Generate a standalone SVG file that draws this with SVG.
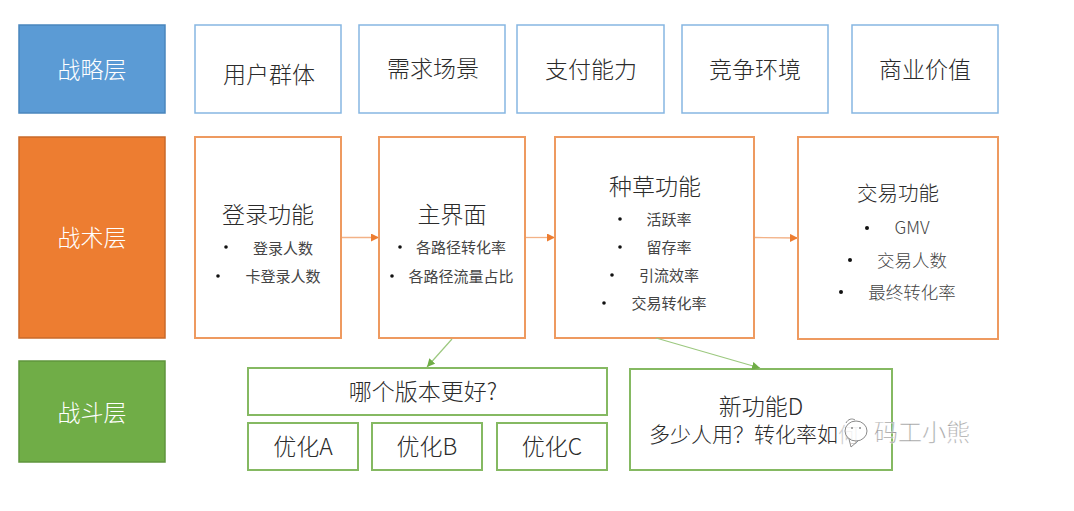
<svg xmlns="http://www.w3.org/2000/svg" width="1074" height="511" viewBox="0 0 1074 511">
<style>
text{font-family:"Noto Sans CJK SC","Noto Sans",sans-serif;fill:#2b2b2b;text-anchor:middle;font-weight:300}
.w{fill:#fff;font-size:23px}
.t{font-size:23px}
.s{font-size:15px;fill:#444;font-weight:400}
.q{font-size:17.500px;fill:#444;font-weight:300}
.m{font-size:23px}
.d{fill:#111}
.b{fill:#fff;stroke:#86b6e2;stroke-width:1.500}
.o{fill:#fff;stroke:#ee9a60;stroke-width:2}
.g{fill:#fff;stroke:#85b962;stroke-width:2}
.ol{stroke:#f3b287;stroke-width:1.300;fill:none}
.gl{stroke:#9cc87f;stroke-width:1.200;fill:none}
.wm{font-size:24px;fill:#9a9a9a;stroke:#fff;stroke-width:.3;text-anchor:start}
</style>
<defs>
<marker id="ao" markerUnits="userSpaceOnUse" markerWidth="9" markerHeight="9" refX="8" refY="4" orient="auto"><path d="M0 0L8 4L0 8Z" fill="#ed7d31"/></marker>
<marker id="ag" markerUnits="userSpaceOnUse" markerWidth="9" markerHeight="9" refX="8" refY="4" orient="auto"><path d="M0 0L8 4L0 8Z" fill="#70ad47"/></marker>
</defs>
<rect width="1074" height="511" fill="#fff"/>
<g id="layer-strategy"><rect x="19" y="25" width="146" height="88" fill="#5b9bd5" stroke="#4a86bd" stroke-width="1.500"/><text class="w" x="92" y="78">战略层</text></g>
<g id="layer-tactic"><rect x="19" y="137" width="146" height="201" fill="#ed7d31" stroke="#c96a2a" stroke-width="1.500"/><text class="w" x="92" y="246">战术层</text></g>
<g id="layer-battle"><rect x="19" y="361" width="146" height="101" fill="#70ad47" stroke="#5f953c" stroke-width="1.500"/><text class="w" x="92" y="421">战斗层</text></g>
<g id="s1"><rect class="b" x="195" y="25" width="146" height="88"/><text class="t" x="269" y="83">用户群体</text></g>
<g id="s2"><rect class="b" x="359" y="25" width="146" height="88"/><text class="t" x="433" y="77">需求场景</text></g>
<g id="s3"><rect class="b" x="517" y="25" width="147" height="88"/><text class="t" x="591" y="78">支付能力</text></g>
<g id="s4"><rect class="b" x="682" y="25" width="146" height="88"/><text class="t" x="755" y="78">竞争环境</text></g>
<g id="s5"><rect class="b" x="852" y="25" width="146" height="88"/><text class="t" x="925" y="78">商业价值</text></g>
<g id="login"><rect class="o" x="195" y="137" width="146" height="201"/><text class="t" x="268" y="223">登录功能</text>
<circle class="d" cx="226" cy="247" r="1.800"/><text class="s" x="283" y="254">登录人数</text>
<circle class="d" cx="218" cy="276" r="1.800"/><text class="s" x="283" y="282">卡登录人数</text></g>
<g id="main"><rect class="o" x="379" y="137" width="146" height="201"/><text class="t" x="452" y="223">主界面</text>
<circle class="d" cx="400" cy="247" r="1.800"/><text class="s" x="461" y="253">各路径转化率</text>
<circle class="d" cx="392" cy="276" r="1.800"/><text class="s" x="461" y="282">各路径流量占比</text></g>
<g id="grass"><rect class="o" x="555" y="137" width="199" height="201"/><text class="t" x="655" y="195">种草功能</text>
<circle class="d" cx="620" cy="219" r="1.800"/><text class="s" x="669" y="225">活跃率</text>
<circle class="d" cx="620" cy="247" r="1.800"/><text class="s" x="669" y="253">留存率</text>
<circle class="d" cx="612" cy="275" r="1.800"/><text class="s" x="669" y="281">引流效率</text>
<circle class="d" cx="604" cy="303" r="1.800"/><text class="s" x="669" y="309">交易转化率</text></g>
<g id="trade"><rect class="o" x="798" y="137" width="200" height="202"/><text x="898" y="201" style="font-size:20.500px">交易功能</text>
<circle class="d" cx="867" cy="228" r="2"/><text class="q" x="912" y="234">GMV</text>
<circle class="d" cx="850" cy="260" r="2"/><text class="q" x="912" y="267">交易人数</text>
<circle class="d" cx="841" cy="292" r="2"/><text class="q" x="912" y="299">最终转化率</text></g>
<g id="which"><rect class="g" x="248" y="368" width="359" height="47"/><text class="m" x="423" y="400">哪个版本更好?</text></g>
<g id="optA"><rect class="g" x="248" y="423" width="110" height="47"/><text class="m" x="303" y="455">优化A</text></g>
<g id="optB"><rect class="g" x="372" y="423" width="110" height="47"/><text class="m" x="427" y="455">优化B</text></g>
<g id="optC"><rect class="g" x="497" y="423" width="110" height="47"/><text class="m" x="552" y="455">优化C</text></g>
<g id="newD"><rect class="g" x="630" y="369" width="262" height="101"/><text class="t" x="761" y="415">新功能D</text><text x="649" y="442" style="font-size:21px;text-anchor:start">多少人用？转化率如<tspan fill="#ccc">何</tspan></text></g>
<g id="connectors">
<path class="ol" d="M342 237.500H379" marker-end="url(#ao)"/>
<path class="ol" d="M526 237.500H555" marker-end="url(#ao)"/>
<path class="ol" d="M755 237.500L798 238" marker-end="url(#ao)"/>
<path class="gl" d="M452 339L427 367" marker-end="url(#ag)"/>
<path class="gl" d="M656 338L760 368" marker-end="url(#ag)"/>
</g>
<g id="watermark">
<text class="wm" x="874" y="441">码工小熊</text>
<g fill="#fff" fill-opacity=".75" stroke="#8a8a8a" stroke-width="1">
<ellipse cx="856" cy="431" rx="11" ry="10"/>
<path d="M849 439L851 447L858 441" fill="none"/>
<path d="M846 423C848 419 852 418 855 420" fill="none"/>
</g>
<g fill="#8a8a8a"><circle cx="852" cy="428" r="1"/><circle cx="860" cy="428" r="1"/></g>
</g>
</svg>
